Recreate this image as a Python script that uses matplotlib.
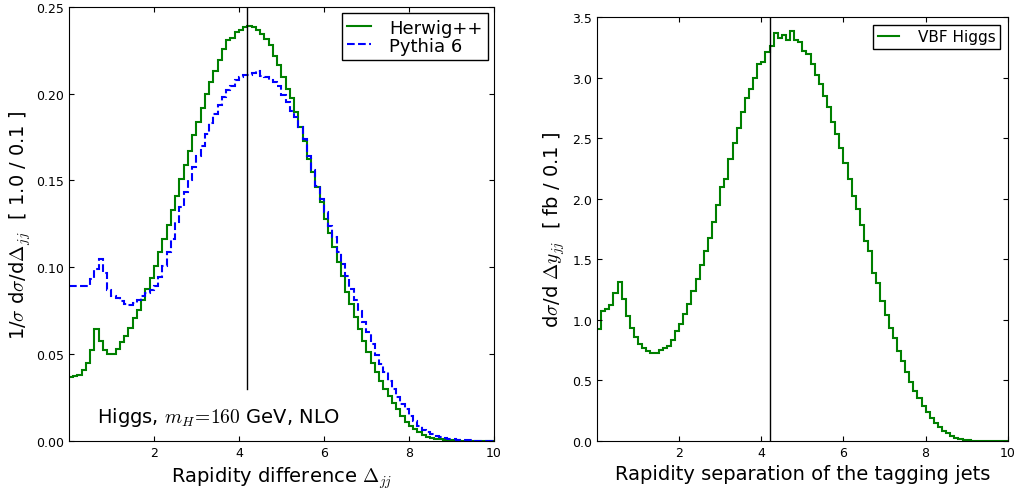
import numpy as np
import matplotlib
matplotlib.use("Agg")
import matplotlib.pyplot as plt

plt.rcParams["mathtext.fontset"] = "cm"
plt.rcParams["xtick.direction"] = "in"
plt.rcParams["ytick.direction"] = "in"
plt.rcParams["xtick.top"] = True
plt.rcParams["ytick.right"] = True

# bin edges: 100 bins of width 0.1 from 0 to 10
edges = np.linspace(0.0, 10.0, 101)
cut = 4.2

herwig = [
    0.0365, 0.0375, 0.038, 0.041, 0.0446, 0.0525, 0.0644, 0.0575, 0.0525, 0.050,
    0.050, 0.053, 0.0567, 0.0606, 0.065, 0.0706, 0.0756, 0.081, 0.0875, 0.094,
    0.101, 0.109, 0.116, 0.1246, 0.133, 0.141, 0.1506, 0.159, 0.167, 0.1765,
    0.184, 0.192, 0.200, 0.207, 0.213, 0.2196, 0.226, 0.231, 0.232, 0.2356,
    0.237, 0.2385, 0.2388, 0.2385, 0.2365, 0.2346, 0.2317, 0.228, 0.222, 0.2163,
    0.2096, 0.203, 0.1975, 0.1894, 0.181, 0.173, 0.1625, 0.155, 0.1465, 0.1375,
    0.128, 0.120, 0.1115, 0.103, 0.095, 0.086, 0.079, 0.0715, 0.0644, 0.0577,
    0.0513, 0.0446, 0.0394, 0.0346, 0.0298, 0.026, 0.022, 0.018, 0.0144, 0.011,
    0.0087, 0.0067, 0.0048, 0.0035, 0.0023, 0.0013, 0.001, 0.0008, 0.0006, 0.0004,
    0.0003, 0.0002, 0.0001, 0.0001, 0.0, 0.0, 0.0, 0.0, 0.0, 0.0,
]

pythia = [
    0.0894, 0.0894, 0.0894, 0.0894, 0.0894, 0.093, 0.099, 0.105, 0.0965, 0.087,
    0.0835, 0.082, 0.0806, 0.0787, 0.078, 0.0792, 0.081, 0.0835, 0.0854, 0.087,
    0.0894, 0.0942, 0.101, 0.109, 0.1163, 0.126, 0.1346, 0.1433, 0.150, 0.1577,
    0.1644, 0.170, 0.177, 0.1833, 0.1885, 0.1937, 0.198, 0.202, 0.2044, 0.2077,
    0.2096, 0.2106, 0.211, 0.2121, 0.213, 0.210, 0.2096, 0.2077, 0.2067, 0.2044,
    0.199, 0.195, 0.190, 0.1865, 0.181, 0.174, 0.1644, 0.156, 0.147, 0.1394,
    0.1317, 0.124, 0.1173, 0.1087, 0.102, 0.095, 0.0875, 0.081, 0.075, 0.0683,
    0.0625, 0.0558, 0.0494, 0.0442, 0.0394, 0.0346, 0.0298, 0.025, 0.0212, 0.0183,
    0.0144, 0.0115, 0.0087, 0.0063, 0.0048, 0.0037, 0.0029, 0.0023, 0.0017, 0.0012,
    0.0009, 0.0006, 0.0004, 0.0003, 0.0002, 0.0001, 0.0, 0.0, 0.0, 0.0,
]

vbf = [
    0.923, 1.069, 1.088, 1.121, 1.218, 1.314, 1.171, 1.033, 0.931, 0.860,
    0.799, 0.766, 0.738, 0.722, 0.722, 0.749, 0.763, 0.785, 0.835, 0.909,
    0.964, 1.047, 1.129, 1.234, 1.336, 1.455, 1.565, 1.672, 1.810, 1.948,
    2.094, 2.160, 2.328, 2.457, 2.584, 2.713, 2.829, 2.906, 2.994, 3.113,
    3.127, 3.209, 3.264, 3.369, 3.325, 3.353, 3.314, 3.383, 3.306, 3.292,
    3.223, 3.196, 3.113, 3.022, 2.948, 2.851, 2.755, 2.631, 2.534, 2.416,
    2.292, 2.163, 2.025, 1.915, 1.782, 1.647, 1.565, 1.386, 1.300, 1.157,
    1.041, 0.931, 0.848, 0.738, 0.661, 0.565, 0.482, 0.413, 0.350, 0.289,
    0.234, 0.187, 0.143, 0.110, 0.083, 0.061, 0.041, 0.025, 0.014, 0.006,
    0.003, 0.001, 0.0, 0.0, 0.0, 0.0, 0.0, 0.0, 0.0, 0.0,
]

fig = plt.figure(figsize=(10.2, 4.89), dpi=100)
ax1 = fig.add_axes([0.0676, 0.0967, 0.4167, 0.8869])
ax2 = fig.add_axes([0.5853, 0.0967, 0.4027, 0.8665])

# left panel: normalised rapidity difference
ax1.stairs(herwig, edges, baseline=None, color="g", lw=1.5, label="Herwig++")
ax1.stairs(pythia, edges, baseline=None, color="b", lw=1.5, ls="--", label="Pythia 6")
ax1.plot([cut, cut], [0.03, 0.25], color="k", lw=1.0)
ax1.set_xlim(0, 10)
ax1.set_ylim(0, 0.25)
ax1.set_xticks([2, 4, 6, 8, 10])
ax1.set_yticks(np.arange(0, 0.251, 0.05))
ax1.yaxis.set_major_formatter(matplotlib.ticker.FormatStrFormatter("%.2f"))
ax1.tick_params(labelsize=9)
ax1.set_xlabel(r"Rapidity difference $\Delta_{jj}$", fontsize=14)
ax1.set_ylabel(r"1/$\sigma$ d$\sigma$/d$\Delta_{jj}$  [ 1.0 / 0.1 ]", fontsize=14,
               labelpad=2)
ax1.text(0.66, 0.011, r"Higgs, $m_H\!=\!160$ GeV, NLO", fontsize=14)
ax1.legend(loc="upper right", fontsize=13, fancybox=False, framealpha=1,
           edgecolor="k", handlelength=1.3, handletextpad=1.0,
           borderpad=0.3, labelspacing=0.0, borderaxespad=0.35)

# right panel: VBF Higgs
ax2.stairs(vbf, edges, baseline=None, color="g", lw=1.5, label="VBF Higgs")
ax2.axvline(cut, color="k", lw=1.0)
ax2.set_xlim(0, 10)
ax2.set_ylim(0, 3.5)
ax2.set_xticks([2, 4, 6, 8, 10])
ax2.set_yticks(np.arange(0, 3.51, 0.5))
ax2.tick_params(labelsize=9)
ax2.set_xlabel("Rapidity separation of the tagging jets", fontsize=14)
ax2.set_ylabel(r"d$\sigma$/d $\Delta y_{jj}$  [ fb / 0.1 ]", fontsize=14)
ax2.legend(loc="upper right", fontsize=11, fancybox=False, framealpha=1,
           edgecolor="k", handlelength=1.4, handletextpad=1.2,
           borderpad=0.3, borderaxespad=0.5)

fig.savefig("out.png", dpi=100)
